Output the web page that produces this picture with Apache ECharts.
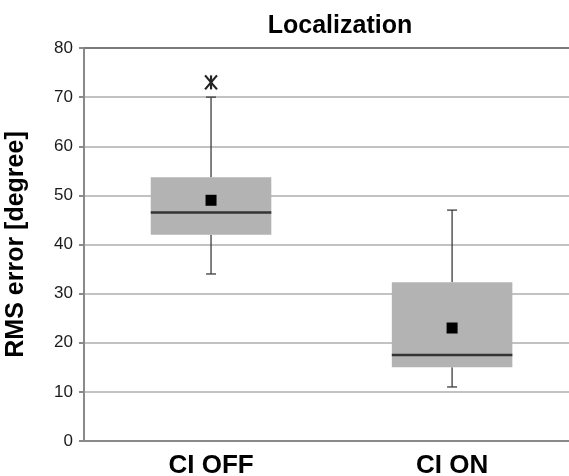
<!DOCTYPE html>
<html>
<head>
<meta charset="utf-8">
<script src="https://cdn.jsdelivr.net/npm/echarts@6/dist/echarts.min.js"></script>
<style>
html,body{margin:0;padding:0;background:#fff;}
#chart{width:569px;height:476px;}
</style>
</head>
<body>
<div id="chart"></div>
<script>
// ---- data ----
var categories = ['CI OFF', 'CI ON'];
var whiskerLow = [34, 11];
var q1 = [42, 15];
var median = [46.5, 17.5];
var q3 = [53.7, 32.3];
var whiskerHigh = [70, 47];
var means = [49, 23];
var outliers = [[0, 73]];
var yTicks = [0, 10, 20, 30, 40, 50, 60, 70, 80];

var boxData = categories.map(function (c, i) {
  return [i, whiskerLow[i], q1[i], median[i], q3[i], whiskerHigh[i]];
});
var meanData = categories.map(function (c, i) { return [i, means[i]]; });

var FONT = '"Liberation Sans", Arial, sans-serif';
var chart = echarts.init(document.getElementById('chart'), null, {renderer: 'canvas'});

chart.setOption({
  animation: false,
  backgroundColor: '#fff',
  title: {
    text: 'Localization',
    left: 335, top: 9,
    textAlign: 'center',
    textStyle: {fontFamily: FONT, fontWeight: 'bold', fontSize: 25, color: '#000'}
  },
  grid: {left: 84, right: 0, top: 48, bottom: 35, containLabel: false, outerBoundsMode: 'none'},
  xAxis: [{
    type: 'value',
    min: -0.527, max: 1.485,
    position: 'bottom',
    axisLine: {show: true, onZero: false, lineStyle: {color: '#8a8a8a', width: 2}},
    axisTick: {show: false},
    splitLine: {show: false},
    axisLabel: {
      show: true,
      customValues: [0, 1],
      formatter: function (v) { return categories[Math.round(v)] || ''; },
      margin: 12,
      fontFamily: FONT, fontWeight: 'bold', fontSize: 26, color: '#000'
    }
  }, {
    type: 'value',
    min: -0.527, max: 1.485,
    position: 'top',
    axisLine: {show: true, onZero: false, lineStyle: {color: '#7a7a7a', width: 2}},
    axisTick: {show: false},
    splitLine: {show: false},
    axisLabel: {show: false}
  }],
  yAxis: {
    type: 'value',
    min: 0, max: 80, interval: 10,
    position: 'left',
    name: 'RMS error [degree]',
    nameLocation: 'middle',
    nameGap: 55,
    nameTextStyle: {fontFamily: FONT, fontWeight: 'bold', fontSize: 25, color: '#000'},
    axisLine: {show: true, onZero: false, lineStyle: {color: '#8a8a8a', width: 2}},
    axisTick: {show: true, length: 5, lineStyle: {color: '#8a8a8a', width: 2}},
    splitLine: {show: true, lineStyle: {color: '#c2c2c2', width: 2}},
    axisLabel: {margin: 11, fontFamily: FONT, fontSize: 17, color: '#1a1a1a'}
  },
  series: [{
    type: 'custom',
    xAxisIndex: 0,
    data: boxData,
    renderItem: function (params, api) {
      var x = api.value(0);
      var half = api.size([0.5, 0])[0] / 2;
      var cap = 5;
      var pLow = api.coord([x, api.value(1)]);
      var pQ1 = api.coord([x, api.value(2)]);
      var pMed = api.coord([x, api.value(3)]);
      var pQ3 = api.coord([x, api.value(4)]);
      var pHigh = api.coord([x, api.value(5)]);
      var cx = pMed[0];
      var wStyle = {stroke: '#3c3c3c', lineWidth: 1.3};
      return {
        type: 'group',
        children: [
          {type: 'line', shape: {x1: cx, y1: pQ3[1], x2: cx, y2: pHigh[1]}, style: wStyle},
          {type: 'line', shape: {x1: cx - cap, y1: pHigh[1], x2: cx + cap, y2: pHigh[1]}, style: wStyle},
          {type: 'line', shape: {x1: cx, y1: pQ1[1], x2: cx, y2: pLow[1]}, style: wStyle},
          {type: 'line', shape: {x1: cx - cap, y1: pLow[1], x2: cx + cap, y2: pLow[1]}, style: wStyle},
          {type: 'rect', shape: {x: cx - half, y: pQ3[1], width: half * 2, height: pQ1[1] - pQ3[1]},
            style: {fill: '#b3b3b3'}},
          {type: 'line', shape: {x1: cx - half, y1: pMed[1], x2: cx + half, y2: pMed[1]},
            style: {stroke: '#333', lineWidth: 2.5}}
        ]
      };
    },
    z: 2
  }, {
    type: 'scatter',
    xAxisIndex: 0,
    data: meanData,
    symbol: 'rect',
    symbolSize: 11,
    itemStyle: {color: '#000', opacity: 1},
    z: 3
  }, {
    type: 'custom',
    xAxisIndex: 0,
    data: outliers,
    renderItem: function (params, api) {
      var p = api.coord([api.value(0), api.value(1)]);
      var r = 7;
      var s = {stroke: '#222', lineWidth: 2.2};
      return {
        type: 'group',
        children: [
          {type: 'line', shape: {x1: p[0] - r * 0.85, y1: p[1] - r, x2: p[0] + r * 0.85, y2: p[1] + r}, style: s},
          {type: 'line', shape: {x1: p[0] + r * 0.85, y1: p[1] - r, x2: p[0] - r * 0.85, y2: p[1] + r}, style: s},
          {type: 'line', shape: {x1: p[0], y1: p[1] - r, x2: p[0], y2: p[1] + r}, style: s}
        ]
      };
    },
    z: 3
  }]
});
</script>
</body>
</html>
